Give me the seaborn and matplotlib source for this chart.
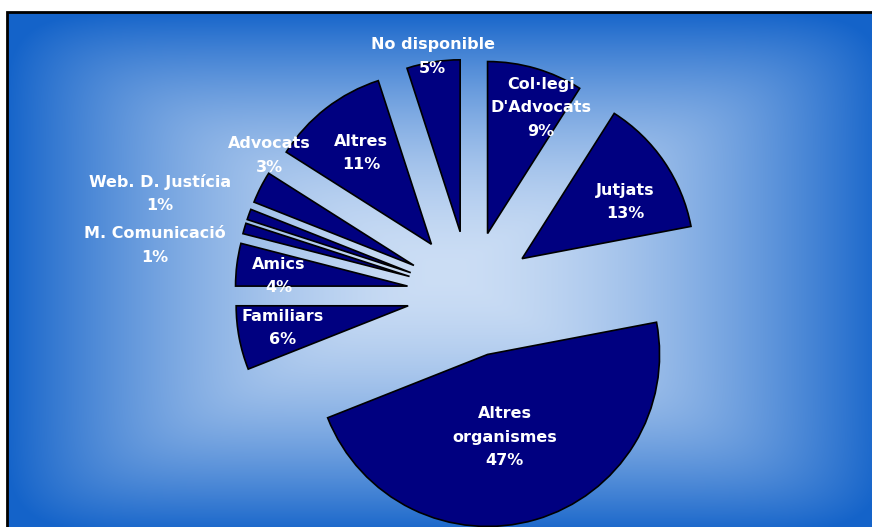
import numpy as np
import matplotlib
matplotlib.use("Agg")
import matplotlib.pyplot as plt
import seaborn as sns
from matplotlib.patches import Rectangle

# Dades del gràfic (sentit horari des de dalt)
categories = ["Col·legi\nD'Advocats", "Jutjats", "Altres\norganismes", "Familiars",
              "Amics", "M. Comunicació", "Web. D. Justícia", "Advocats",
              "Altres", "No disponible"]
percentatges = [9, 13, 47, 6, 4, 1, 1, 3, 11, 5]

# Desplaçament de cada etiqueta respecte al vèrtex de la porció (en radis)
label_offsets = [(0.31, 0.73), (0.60, 0.33), (0.10, -0.48), (-0.73, -0.13),
                 (-0.75, 0.06), (-1.48, 0.18), (-1.46, 0.46), (-0.84, 0.64),
                 (-0.41, 0.53), (-0.16, 1.02)]

sns.set_style("white")
plt.rcParams['font.family'] = ['DejaVu Sans']

W, H = 872, 527
fig = plt.figure(figsize=(W / 100, H / 100), dpi=100)
fig.patch.set_facecolor("white")

# Fons amb degradat rectangular des del centre
fl, ft = 7, 12
bg = fig.add_axes([fl / W, 0, 1 - fl / W, 1 - ft / H])
bw, bh = W - fl, H - ft
xx, yy = np.meshgrid(np.arange(bw), np.arange(bh))
dx = np.abs(xx - (445 - fl)) / 440.0
dy = np.abs(yy - (272 - ft)) / 262.0
p = 10
d = np.clip((dx ** p + dy ** p) ** (1 / p), 0, 1)
c0 = np.array([0.80, 0.87, 0.96])
c1 = np.array([0.08, 0.39, 0.79])
t = d[..., None] ** 1.7
img = c0 * (1 - t) + c1 * t
bg.imshow(img, aspect="auto", interpolation="bilinear")
bg.set_axis_off()

fig.patches.append(Rectangle((fl / W, -0.1), 1.2, 1.1 - ft / H,
                             transform=fig.transFigure, fill=False,
                             edgecolor="black", linewidth=2.0, zorder=5))

# Pastís
ax = fig.add_axes([0, 0, 1, 1])
ax.patch.set_alpha(0)
cx_px, cy_px, r_px = 470, 294, 172
wedges, _ = ax.pie(percentatges, startangle=90, counterclock=False,
                   explode=[0.366] * len(percentatges), radius=1,
                   colors=["#000080"] * len(percentatges),
                   wedgeprops=dict(edgecolor="black", linewidth=1.2))

for w, cat, val, (ox, oy) in zip(wedges, categories, percentatges, label_offsets):
    xc, yc = w.center
    ax.text(xc + ox, yc + oy, f"{cat}\n{val}%", ha="center", va="center",
            color="white", fontsize=11.5, fontweight="bold", linespacing=1.7)

ax.set_aspect("equal")
ax.set_xlim(-cx_px / r_px, (W - cx_px) / r_px)
ax.set_ylim((cy_px - H) / r_px, cy_px / r_px)
ax.set_axis_off()

fig.savefig("out.png", dpi=100)
